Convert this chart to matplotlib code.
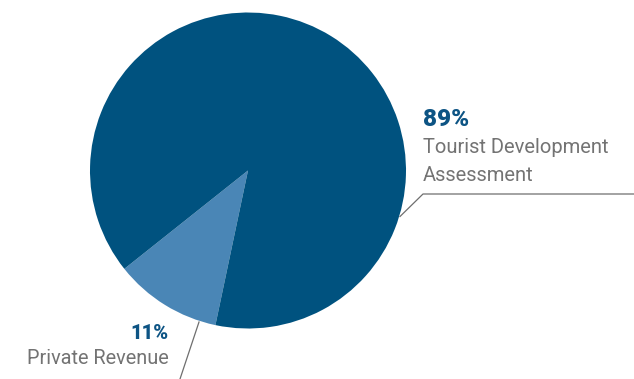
import matplotlib
matplotlib.use("Agg")
import matplotlib.pyplot as plt
import numpy as np

labels = ["Private Revenue", "Tourist Development\nAssessment"]
values = [11, 89]
pct_labels = ["11%", "89%"]
colors = ["#4A86B6", "#00527F"]

W, H = 634, 379
fig = plt.figure(figsize=(W / 100, H / 100), dpi=100)
ax = fig.add_axes([0, 0, 1, 1])

cx, cy, r = 248, H - 170.5, 158
ax.pie(values, colors=colors, startangle=218.5, counterclock=True,
       center=(cx, cy), radius=r, wedgeprops=dict(linewidth=0))
ax.set_xlim(0, W)
ax.set_ylim(0, H)
ax.set_aspect("equal")
ax.axis("off")

line_kw = dict(color="#6E6E6E", linewidth=0.9)
# leader for 89%
ax.plot([400, 423, W], [H - 216.5, H - 194, H - 194], **line_kw)
# leader for 11%
ax.plot([180, 199], [H - 379, H - 322], **line_kw)

font = "Roboto"
gray = "#737373"
ax.text(423, H - 126, pct_labels[1], fontsize=17.5, fontweight="heavy",
        color="#0D5484", family=font, ha="left", va="baseline")
ax.text(423, H - 153.3, "Tourist Development", fontsize=14.5, fontweight="normal",
        color=gray, family=font, ha="left", va="baseline")
ax.text(423, H - 180.7, "Assessment", fontsize=14.5, fontweight="normal",
        color=gray, family=font, ha="left", va="baseline")

ax.text(169, H - 339, pct_labels[0], fontsize=14.5, fontweight="heavy",
        color="#0D5484", family=font, ha="right", va="baseline")
ax.text(169, H - 364, labels[0], fontsize=14.3, fontweight="normal", color=gray,
        family=font, ha="right", va="baseline")

fig.savefig("out.png", dpi=100)
